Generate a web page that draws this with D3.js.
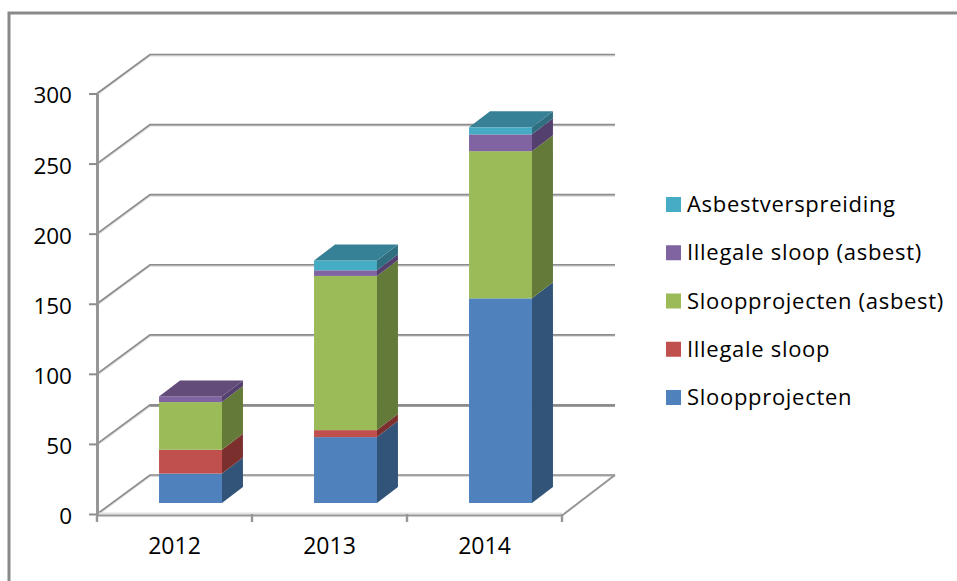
<!DOCTYPE html>
<html lang="en">
<head>
    <style>
        html, body { margin: 0; padding: 0; background: #fff; }
        svg { display: block; }
        text { font-family: "Open Sans", sans-serif; fill: #000; }
    </style>
    <script src="https://cdn.jsdelivr.net/npm/d3@7"></script>
</head>
<body>
    <svg id="chartContainer" width="957" height="581"></svg>
<script>
    var years = ["2012", "2013", "2014"];
    var seriesNames = ["Sloopprojecten", "Illegale sloop", "Sloopprojecten (asbest)", "Illegale sloop (asbest)", "Asbestverspreiding"];
    var sloopprojecten = [21, 47, 146];
    var illegaleSloop = [17, 5, 0];
    var sloopAsbest = [34, 110, 105];
    var illegaleAsbest = [4, 4, 12];
    var asbestverspreiding = [0, 7, 5];
    var yTicks = [0, 50, 100, 150, 200, 250, 300];

    var seriesValues = [sloopprojecten, illegaleSloop, sloopAsbest, illegaleAsbest, asbestverspreiding];
    var frontColors = ["#4f81bd", "#c0504d", "#9bbb59", "#8064a2", "#46acc5"];
    var sideColors = ["#325479", "#7b302e", "#647a38", "#54406f", "#2f6f80"];
    var topColors = ["#3b6190", "#8f3b39", "#75903f", "#634b7a", "#378196"];

    var svg = d3.select("svg");

    // frame, only top and left show in the picture
    svg.append("path")
       .attr("d", "M9,581V13H957")
       .attr("fill", "none")
       .attr("stroke", "#8a8a8a")
       .attr("stroke-width", 3);

    var left = 97, right = 562, floorY = 514, topY = 93.5;
    var wallDx = 53, wallDy = 39;      // depth of the whole box
    var offDx = 16, offDy = 11;        // bar sits this far into the box
    var barDx = 21, barDy = 16;        // depth of a bar

    var xScale = d3.scaleBand().domain(years).range([left, right]).paddingInner(0.594).paddingOuter(0.297);
    var yScale = d3.scaleLinear().domain([0, 300]).range([floorY, topY]);
    var step = xScale.step();

    var grid = svg.append("g");

    // back wall and side wall lines
    yTicks.forEach(function(t) {
        var y = yScale(t);
        grid.append("path")
            .attr("d", "M" + left + "," + y + "L" + (left + wallDx) + "," + (y - wallDy) + "H" + (right + wallDx))
            .attr("fill", "none")
            .attr("stroke", "#d8d8d8")
            .attr("stroke-width", 2)
            .attr("transform", "translate(0,1)");
        grid.append("path")
            .attr("d", "M" + left + "," + y + "L" + (left + wallDx) + "," + (y - wallDy) + "H" + (right + wallDx))
            .attr("fill", "none")
            .attr("stroke", "#8c8c8c")
            .attr("stroke-width", 1.6);
    });

    // the line behind the 50 tick comes out heavier in the picture
    grid.append("line")
        .attr("x1", left + wallDx)
        .attr("x2", right + wallDx)
        .attr("y1", yScale(50) - wallDy + 0.5)
        .attr("y2", yScale(50) - wallDy + 0.5)
        .attr("stroke", "#8c8c8c")
        .attr("stroke-width", 2.6);

    // floor front and right edge
    grid.append("line")
        .attr("x1", left)
        .attr("x2", right)
        .attr("y1", floorY - 0.5)
        .attr("y2", floorY - 0.5)
        .attr("stroke", "#e2e2e2")
        .attr("stroke-width", 2);
    grid.append("path")
        .attr("d", "M" + left + "," + (floorY + 1.5) + "H" + right + "L" + (right + wallDx) + "," + (floorY - wallDy))
        .attr("fill", "none")
        .attr("stroke", "#969696")
        .attr("stroke-width", 2);

    // Add the Y Axis
    var yAxis = svg.append("g")
        .attr("transform", "translate(" + left + ",0)")
        .call(d3.axisLeft(yScale).tickValues(yTicks).tickSize(8).tickSizeOuter(0).tickPadding(17));
    yAxis.select(".domain").attr("stroke", "#969696").attr("stroke-width", 3);
    yAxis.selectAll(".tick line").attr("stroke", "#8c8c8c").attr("stroke-width", 2);
    yAxis.selectAll("text").attr("dy", "0.42em").style("font-size", "22.5px");

    // Add the X Axis
    var xAxis = svg.append("g")
        .attr("transform", "translate(0," + floorY + ")")
        .call(d3.axisBottom(xScale).tickSize(0).tickPadding(24));
    xAxis.select(".domain").remove();
    xAxis.selectAll("text").style("font-size", "23px");

    // ticks between the categories
    var boundaries = years.map(function(d) { return xScale(d) - xScale.paddingInner() * step / 2; });
    boundaries.push(right);
    xAxis.selectAll(".boundary")
        .data(boundaries)
        .enter().append("line")
        .attr("class", "boundary")
        .attr("x1", function(d) { return d; })
        .attr("x2", function(d) { return d; })
        .attr("y1", 0)
        .attr("y2", 8)
        .attr("stroke", "#969696")
        .attr("stroke-width", 2.4);

    // stacked bars
    var stackData = years.map(function(year, i) {
        var row = { year: year };
        seriesNames.forEach(function(name, s) { row[name] = seriesValues[s][i]; });
        return row;
    });
    var stacked = d3.stack().keys(seriesNames)(stackData);

    years.forEach(function(year, i) {
        var g = svg.append("g").attr("class", "bar");
        var x0 = xScale(year) + offDx, x1 = x0 + xScale.bandwidth();
        var topSeries = 0;

        stacked.forEach(function(layer, s) {
            var low = yScale(layer[i][0]) - offDy, high = yScale(layer[i][1]) - offDy;
            if (layer[i][1] === layer[i][0]) return;
            topSeries = s;
            g.append("rect")
             .attr("x", x0)
             .attr("y", high)
             .attr("width", x1 - x0)
             .attr("height", low - high)
             .attr("fill", frontColors[s]);
            g.append("path")
             .attr("d", "M" + x1 + "," + low + "L" + (x1 + barDx) + "," + (low - barDy) + "V" + (high - barDy) + "L" + x1 + "," + high + "Z")
             .attr("fill", sideColors[s]);
        });

        var barTop = yScale(stacked[topSeries][i][1]) - offDy;
        g.append("path")
         .attr("d", "M" + x0 + "," + barTop + "L" + (x0 + barDx) + "," + (barTop - barDy) + "H" + (x1 + barDx) + "L" + x1 + "," + barTop + "Z")
         .attr("fill", topColors[topSeries]);
    });

    // legend, top entry is the last series
    var legendY = d3.scalePoint().domain(seriesNames.slice().reverse()).range([204.5, 397.5]);
    var legend = svg.selectAll(".legend")
        .data(seriesNames)
        .enter().append("g")
        .attr("class", "legend")
        .attr("transform", function(d) { return "translate(666," + legendY(d) + ")"; });
    legend.append("rect")
        .attr("y", -7.5)
        .attr("width", 15)
        .attr("height", 15)
        .attr("fill", function(d, i) { return frontColors[i]; });
    legend.append("text")
        .attr("x", 21)
        .attr("dy", "0.35em")
        .style("font-size", "22px")
        .style("letter-spacing", "0.7px")
        .text(function(d) { return d; });
</script>
</body>
</html>
